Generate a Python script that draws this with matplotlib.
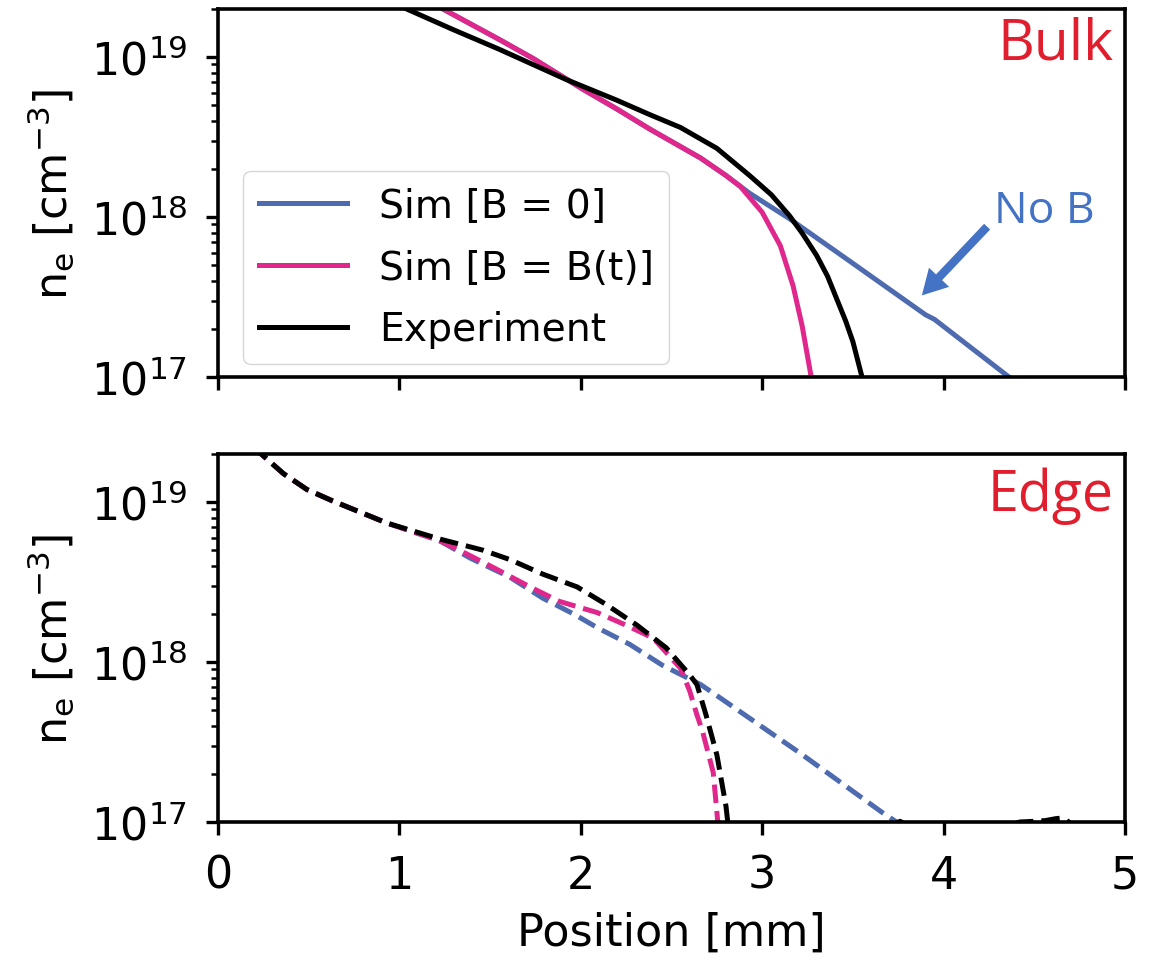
import matplotlib
matplotlib.use("Agg")
import matplotlib.pyplot as plt
import numpy as np

# ---------------- data ----------------
# Top panel: "Bulk"
bulk_b0_x = [1.20, 1.24, 1.55, 1.74, 2.01, 2.20, 2.38, 2.66, 2.80, 2.93, 3.15, 3.50,
             3.90, 3.95, 4.36, 4.42]
bulk_b0_y = [2.14e19, 2.0e19, 1.29e19, 9.77e18, 6.31e18, 4.73e18, 3.55e18, 2.34e18,
             1.82e18, 1.41e18, 9.77e17, 5.13e17, 2.45e17, 2.29e17, 1.0e17, 9.0e16]

bulk_bt_x = [1.20, 1.24, 1.55, 1.74, 2.01, 2.20, 2.38, 2.66, 2.80, 2.88, 3.00, 3.10,
             3.17, 3.22, 3.27, 3.29]
bulk_bt_y = [2.14e19, 2.0e19, 1.29e19, 9.77e18, 6.31e18, 4.73e18, 3.55e18, 2.34e18,
             1.82e18, 1.55e18, 1.07e18, 6.61e17, 3.72e17, 2.09e17, 1.0e17, 8.0e16]

bulk_exp_x = [1.00, 1.04, 1.30, 1.55, 1.92, 2.20, 2.38, 2.55, 2.75, 2.93, 3.05, 3.15,
              3.22, 3.30, 3.36, 3.41, 3.46, 3.50, 3.55, 3.57]
bulk_exp_y = [2.09e19, 2.0e19, 1.48e19, 1.12e19, 7.24e18, 5.37e18, 4.37e18, 3.63e18,
              2.69e18, 1.82e18, 1.38e18, 1.02e18, 7.94e17, 5.75e17, 4.27e17, 3.09e17,
              2.24e17, 1.66e17, 1.0e17, 8.5e16]

# Bottom panel: "Edge"
edge_b0_x = [0.20, 0.23, 0.36, 0.49, 0.63, 0.93, 1.22, 1.39, 1.61, 1.79, 1.96, 2.10,
             2.27, 2.45, 2.66, 2.75, 3.21, 3.66, 3.74, 3.80]
edge_b0_y = [2.29e19, 2.04e19, 1.51e19, 1.20e19, 1.02e19, 7.41e18, 5.75e18, 4.47e18,
             3.39e18, 2.51e18, 2.0e18, 1.62e18, 1.29e18, 9.55e17, 7.24e17, 6.17e17,
             2.69e17, 1.15e17, 1.0e17, 8.91e16]

edge_bt_x = [0.20, 0.23, 0.36, 0.49, 0.63, 0.93, 1.22, 1.33, 1.52, 1.72, 1.88, 2.09,
             2.25, 2.40, 2.55, 2.60, 2.64, 2.67, 2.73, 2.755, 2.77]
edge_bt_y = [2.29e19, 2.04e19, 1.51e19, 1.20e19, 1.02e19, 7.41e18, 5.75e18, 5.01e18,
             3.89e18, 2.95e18, 2.40e18, 2.04e18, 1.70e18, 1.41e18, 9.12e17, 6.61e17,
             4.68e17, 3.72e17, 2.04e17, 1.0e17, 7.94e16]

edge_exp_x = [0.20, 0.23, 0.36, 0.49, 0.63, 0.93, 1.22, 1.46, 1.61, 1.79, 1.98, 2.14,
              2.31, 2.47, 2.60, 2.64, 2.69, 2.75, 2.80, 2.81, 2.85, 3.30, 3.72, 3.76,
              3.80, 4.30, 4.42, 4.50, 4.56, 4.62, 4.66, 4.69, 4.73, 5.0]
edge_exp_y = [2.29e19, 2.04e19, 1.51e19, 1.20e19, 1.02e19, 7.41e18, 5.89e18, 5.01e18,
              4.37e18, 3.55e18, 2.95e18, 2.29e18, 1.70e18, 1.23e18, 8.32e17, 7.24e17,
              4.68e17, 2.63e17, 1.26e17, 1.0e17, 6.0e16, 6.0e16, 9.6e16, 1.01e17,
              9.5e16, 9.0e16, 1.0e17, 1.01e17, 1.02e17, 1.05e17, 1.06e17, 1.0e17,
              9.0e16, 8.0e16]

labels = ["Sim [B = 0]", "Sim [B = B(t)]", "Experiment"]
panel_titles = ["Bulk", "Edge"]
xticks = [0, 1, 2, 3, 4, 5]

# ---------------- style ----------------
c_b0 = "#4F6BB0"
c_bt = "#E0288C"
c_exp = "black"
c_title = "#E11E2D"
c_note = "#4472C4"

plt.rcParams.update({
    "font.family": ["DejaVu Sans"],
    "font.size": 32,
    "axes.linewidth": 2.6,
    "xtick.major.width": 2.4, "ytick.major.width": 2.4,
    "xtick.minor.width": 1.8, "ytick.minor.width": 1.8,
    "xtick.major.size": 9, "ytick.major.size": 9,
    "xtick.minor.size": 5, "ytick.minor.size": 5,
})

fig = plt.figure(figsize=(11.56, 9.62), dpi=100)
ax1 = fig.add_axes([0.1886, 0.6071, 0.7846, 0.3825])
ax2 = fig.add_axes([0.1886, 0.1445, 0.7846, 0.3825])

lw = 3.6
ax1.plot(bulk_b0_x, bulk_b0_y, color=c_b0, lw=lw, label=labels[0])
ax1.plot(bulk_bt_x, bulk_bt_y, color=c_bt, lw=lw, label=labels[1])
ax1.plot(bulk_exp_x, bulk_exp_y, color=c_exp, lw=lw, label=labels[2])

ax2.plot(edge_b0_x, edge_b0_y, color=c_b0, lw=lw, ls="--")
ax2.plot(edge_bt_x, edge_bt_y, color=c_bt, lw=lw, ls="--")
ax2.plot(edge_exp_x, edge_exp_y, color=c_exp, lw=lw, ls="--")

for ax in (ax1, ax2):
    ax.set_yscale("log")
    ax.set_ylim(1e17, 2e19)
    ax.set_xlim(0, 5)
    ax.set_xticks(xticks)
    ax.set_ylabel(r"n$_\mathrm{e}$ [cm$^{-3}$]", labelpad=10)
    ax.tick_params(axis="y", which="major", pad=13)
    ax.tick_params(axis="x", which="major", pad=14)

ax1.tick_params(axis="x", labelbottom=False)
ax2.set_xlabel("Position [mm]", labelpad=10)

leg = ax1.legend(loc="lower left", bbox_to_anchor=(0.0276, 0.035), borderaxespad=0,
                 fontsize=28.3, handlelength=2.25, handletextpad=0.8, labelspacing=0.6)

ax1.text(0.987, 0.981, panel_titles[0], transform=ax1.transAxes, ha="right", va="top",
         color=c_title, fontsize=41, family="Open Sans")
ax2.text(0.987, 0.965, panel_titles[1], transform=ax2.transAxes, ha="right", va="top",
         color=c_title, fontsize=40, family="Open Sans")

ax1.annotate("", xy=(3.88, 10**17.51), xytext=(4.24, 10**17.94),
             arrowprops=dict(arrowstyle="simple,head_length=0.9,head_width=1.0,tail_width=0.3",
                             mutation_scale=20, color=c_note, lw=0, shrinkA=0, shrinkB=0))
ax1.text(4.28, 10**18.04, "No B", color=c_note, fontsize=32, family="Open Sans",
         ha="left", va="center")

fig.savefig("out.png", dpi=100)
